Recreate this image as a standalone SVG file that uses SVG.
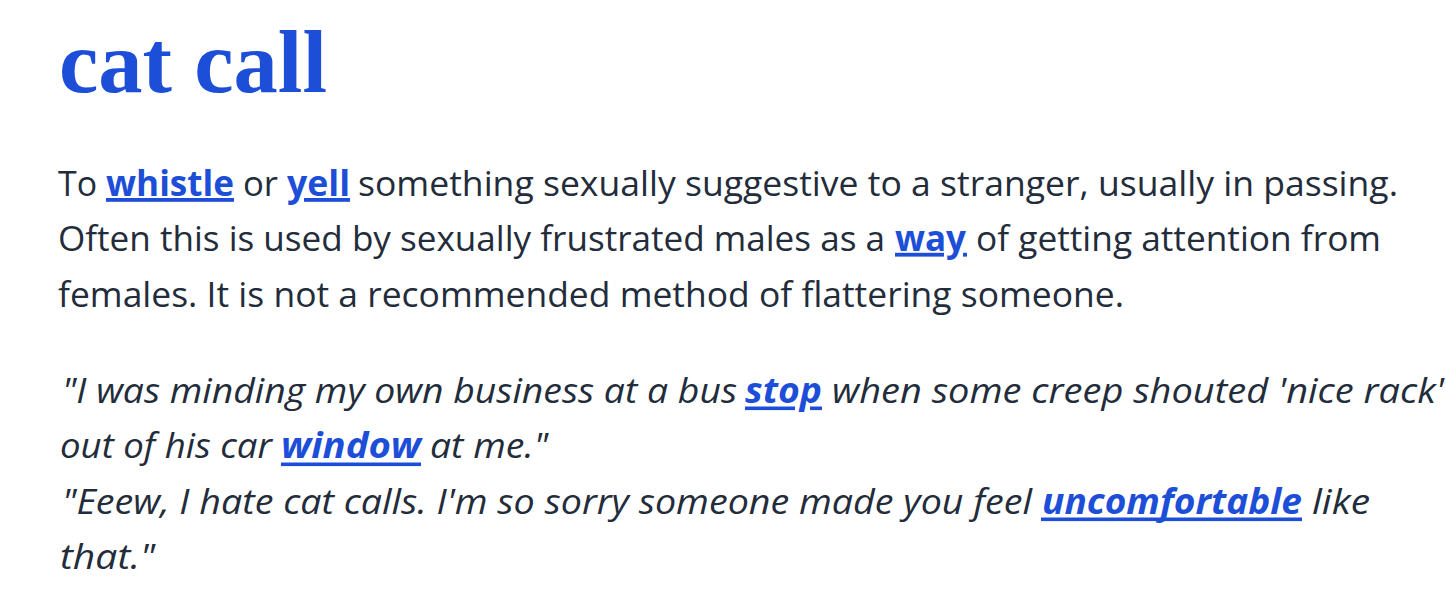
<svg xmlns="http://www.w3.org/2000/svg" width="1446" height="608" viewBox="0 0 1446 608">
  <style>
    .title { font-family: "Liberation Serif", "Times New Roman", serif; font-weight: 700; font-size: 88px; fill: #1d4ed8; }
    .t { font-family: "Open Sans", "Noto Sans", "Liberation Sans", sans-serif; font-size: 35px; fill: #232c3a; }
    .i { font-style: italic; }
    .lnk { font-weight: 700; fill: #1d4ed8; }
    .ul { fill: #1d4ed8; }
  </style>
  <rect x="0" y="0" width="1446" height="608" fill="#ffffff"/>

  <g id="title">
    <text class="title" x="59" y="92" textLength="268" lengthAdjust="spacingAndGlyphs">cat call</text>
  </g>

  <g id="definition">
    <text class="t" x="58" y="196" textLength="39" lengthAdjust="spacingAndGlyphs">To</text>
    <text class="t lnk" x="106" y="196" textLength="128" lengthAdjust="spacingAndGlyphs">whistle</text>
    <rect class="ul" x="106" y="198" width="128" height="3.8"/>
    <text class="t" x="243" y="196" textLength="35" lengthAdjust="spacingAndGlyphs">or</text>
    <text class="t lnk" x="287" y="196" textLength="63" lengthAdjust="spacingAndGlyphs">yell</text>
    <rect class="ul" x="304" y="198" width="46" height="3.8"/>
    <text class="t" x="358" y="196" textLength="1040" lengthAdjust="spacingAndGlyphs">something sexually suggestive to a stranger, usually in passing.</text>

    <text class="t" x="58" y="251" textLength="827" lengthAdjust="spacingAndGlyphs">Often this is used by sexually frustrated males as a</text>
    <text class="t lnk" x="895" y="251" textLength="71" lengthAdjust="spacingAndGlyphs">way</text>
    <rect class="ul" x="895" y="252.8" width="49" height="3.8"/>
    <rect class="ul" x="963" y="252.8" width="4" height="3.8"/>
    <text class="t" x="976" y="251" textLength="405" lengthAdjust="spacingAndGlyphs">of getting attention from</text>

    <text class="t" x="58" y="307" textLength="1066" lengthAdjust="spacingAndGlyphs">females. It is not a recommended method of flattering someone.</text>
  </g>

  <g id="example">
    <text class="t i" x="62" y="403" textLength="675" lengthAdjust="spacingAndGlyphs">"I was minding my own business at a bus</text>
    <text class="t i lnk" x="745" y="403" textLength="77" lengthAdjust="spacingAndGlyphs">stop</text>
    <rect class="ul" x="745" y="406.5" width="50" height="3.6"/>
    <rect class="ul" x="810" y="406.5" width="12" height="3.6"/>
    <text class="t i" x="832" y="403" textLength="612" lengthAdjust="spacingAndGlyphs">when some creep shouted 'nice rack'</text>

    <text class="t i" x="60" y="458" textLength="212" lengthAdjust="spacingAndGlyphs">out of his car</text>
    <text class="t i lnk" x="281" y="458" textLength="140" lengthAdjust="spacingAndGlyphs">window</text>
    <rect class="ul" x="281" y="462.5" width="140" height="3.6"/>
    <text class="t i" x="430" y="458" textLength="118" lengthAdjust="spacingAndGlyphs">at me."</text>

    <text class="t i" x="62" y="514" textLength="970" lengthAdjust="spacingAndGlyphs">"Eeew, I hate cat calls. I'm so sorry someone made you feel</text>
    <text class="t i lnk" x="1042" y="514" textLength="260" lengthAdjust="spacingAndGlyphs">uncomfortable</text>
    <rect class="ul" x="1041" y="517.5" width="261" height="3.6"/>
    <text class="t i" x="1312" y="514" textLength="58" lengthAdjust="spacingAndGlyphs">like</text>

    <text class="t i" x="60" y="569" textLength="95" lengthAdjust="spacingAndGlyphs">that."</text>
  </g>
</svg>
